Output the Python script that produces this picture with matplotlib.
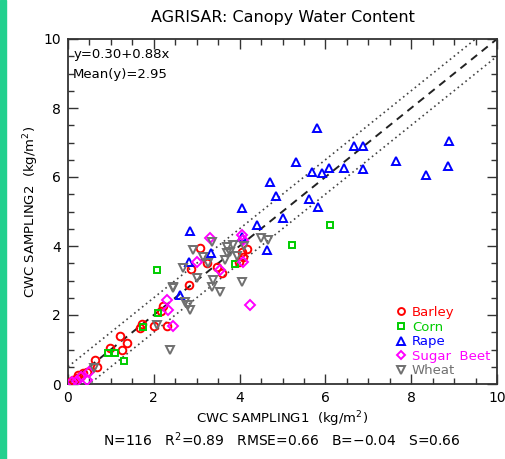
import matplotlib
matplotlib.use("Agg")
import matplotlib.pyplot as plt
from matplotlib.patches import Rectangle
import numpy as np

# ---- data ----
barley_x = [0.05, 0.12, 0.20, 0.24, 0.30, 0.36, 0.45, 0.63, 0.67, 0.98, 1.21, 1.25, 1.37, 1.68, 1.72,
            2.01, 2.21, 2.30, 2.16, 2.83, 2.87, 3.08, 3.25, 3.47, 3.58, 4.05, 4.17, 4.09, 3.98]
barley_y = [0.05, 0.12, 0.18, 0.25, 0.22, 0.31, 0.35, 0.70, 0.50, 1.03, 1.40, 0.99, 1.18, 1.61, 1.75,
            1.69, 2.26, 1.69, 2.12, 2.87, 3.32, 3.93, 3.50, 3.40, 3.22, 3.83, 3.90, 3.67, 3.55]
corn_x = [6.11, 5.21, 2.07, 3.89, 2.10, 1.74, 0.94, 1.10, 1.30]
corn_y = [4.61, 4.03, 3.30, 3.48, 2.05, 1.66, 0.91, 0.89, 0.68]
rape_x = [5.80, 5.31, 5.68, 5.91, 6.08, 6.44, 6.67, 6.87, 8.89, 7.64, 8.86, 6.87, 8.34, 4.72, 4.85,
          5.62, 5.83, 4.05, 5.02, 4.41, 4.05, 2.84, 3.33, 2.82, 2.61, 4.65]
rape_y = [7.42, 6.44, 6.15, 6.12, 6.25, 6.25, 6.91, 6.91, 7.05, 6.46, 6.32, 6.23, 6.06, 5.86, 5.45,
          5.36, 5.14, 5.09, 4.80, 4.61, 4.25, 4.44, 3.80, 3.53, 2.58, 3.88]
beet_x = [0.10, 0.20, 0.30, 0.44, 0.50, 2.34, 2.45, 2.30, 3.31, 3.54, 4.07, 4.09, 4.24, 4.05, 3.00]
beet_y = [0.05, 0.10, 0.20, 0.12, 0.35, 2.14, 1.68, 2.43, 4.22, 3.30, 4.17, 3.54, 2.29, 4.32, 3.55]
wheat_x = [2.38, 2.07, 2.45, 2.73, 2.80, 2.84, 2.45, 2.69, 2.92, 3.00, 3.15, 3.27, 3.35, 3.39, 3.35,
           3.54, 3.66, 3.70, 3.78, 3.85, 3.70, 4.05, 4.51, 4.67, 3.95, 4.10, 0.60]
wheat_y = [0.99, 1.71, 2.77, 2.39, 2.29, 2.14, 2.82, 3.35, 3.88, 3.06, 3.69, 3.50, 4.12, 3.01, 2.82,
           2.68, 3.59, 3.98, 3.83, 4.03, 3.79, 2.97, 4.22, 4.17, 3.70, 4.00, 0.45]

series_names = ["Barley", "Corn", "Rape", "Sugar  Beet", "Wheat"]
line_x = [0, 10]
offset = 0.5

fit_text = "y=0.30+0.88x"
mean_text = "Mean(y)=2.95"
stats_text = "N=116   R$^2$=0.89   RMSE=0.66   B=\u22120.04   S=0.66"

# ---- figure ----
fig = plt.figure(figsize=(5.06, 4.59), dpi=100)
fig.patches.append(Rectangle((0, 0), 6 / 506, 1, transform=fig.transFigure,
                             color="#22d08e", zorder=0))
ax = fig.add_axes([68 / 506, 1 - 384 / 459, 429 / 506, 345 / 459])

ax.plot(line_x, line_x, color="#222222", ls=(0, (4, 3)), lw=1.4, zorder=2)
ax.plot(line_x, [v + offset for v in line_x], color="#444444", ls=(0, (1, 2)), lw=1.2, zorder=2)
ax.plot(line_x, [v - offset for v in line_x], color="#444444", ls=(0, (1, 2)), lw=1.2, zorder=2)

styles = [
    (barley_x, barley_y, "o", "#ff0000", 5.5),
    (corn_x, corn_y, "s", "#00cc00", 5),
    (rape_x, rape_y, "^", "#0000ff", 6),
    (beet_x, beet_y, "D", "#ff00ff", 5),
    (wheat_x, wheat_y, "v", "#707070", 6),
]
handles = []
for (xs, ys, m, c, s), name in zip(styles, series_names):
    h, = ax.plot(xs, ys, ls="none", marker=m, color=c, mfc="none", mec=c, ms=s, mew=1.4,
                 label=name, zorder=3)
    handles.append(h)

leg = ax.legend(handles=handles, loc="lower right", frameon=False, labelcolor="linecolor",
                handlelength=0.6, handletextpad=0.5, borderaxespad=0.1, labelspacing=0.12,
                fontsize=9.5, markerscale=0.9)

ax.set_xlim(0, 10)
ax.set_ylim(0, 10)
ax.set_xticks([0, 2, 4, 6, 8, 10])
ax.set_yticks([0, 2, 4, 6, 8, 10])
ax.set_xticks(np.arange(0, 10.01, 0.5), minor=True)
ax.set_yticks(np.arange(0, 10.01, 0.5), minor=True)
ax.tick_params(which="both", direction="in", top=True, right=True, color="#333333")
ax.tick_params(which="major", length=7, width=1.0, labelsize=10, pad=5)
ax.tick_params(which="minor", length=4, width=1.0)
for sp in ax.spines.values():
    sp.set_color("#333333")
    sp.set_linewidth(1.3)

ax.set_title("AGRISAR: Canopy Water Content", fontsize=11.5, pad=12)
ax.set_xlabel("CWC SAMPLING1  (kg/m$^2$)", fontsize=9.5, labelpad=3)
ax.set_ylabel("CWC SAMPLING2  (kg/m$^2$)", fontsize=9.5, labelpad=2)

ax.text(0.012, 0.975, fit_text, transform=ax.transAxes, fontsize=9.5, va="top", ha="left")
ax.text(0.012, 0.915, mean_text, transform=ax.transAxes, fontsize=9.5, va="top", ha="left")

fig.text(282 / 506, 1 - 440 / 459, stats_text, ha="center", va="center", fontsize=10)

fig.savefig("out.png", dpi=100)
